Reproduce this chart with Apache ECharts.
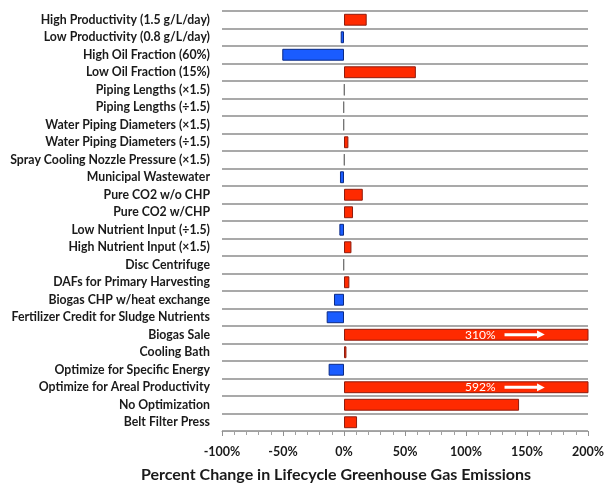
<!DOCTYPE html>
<html>
<head>
<meta charset="utf-8">
<script src="https://cdn.jsdelivr.net/npm/echarts@6/dist/echarts.min.js"></script>
<style>
  html, body { margin: 0; padding: 0; background: #fff; }
  #chart { width: 613px; height: 486px; }
</style>
</head>
<body>
<div id="chart"></div>
<script>
// Sensitivity scenarios, listed top to bottom
const scenarios = [
  'High Productivity (1.5 g/L/day)',
  'Low Productivity (0.8 g/L/day)',
  'High Oil Fraction (60%)',
  'Low Oil Fraction (15%)',
  'Piping Lengths (×1.5)',
  'Piping Lengths (÷1.5)',
  'Water Piping Diameters (×1.5)',
  'Water Piping Diameters (÷1.5)',
  'Spray Cooling Nozzle Pressure (×1.5)',
  'Municipal Wastewater',
  'Pure CO2 w/o CHP',
  'Pure CO2 w/CHP',
  'Low Nutrient Input (÷1.5)',
  'High Nutrient Input (×1.5)',
  'Disc Centrifuge',
  'DAFs for Primary Harvesting',
  'Biogas CHP w/heat exchange',
  'Fertilizer Credit for Sludge Nutrients',
  'Biogas Sale',
  'Cooling Bath',
  'Optimize for Specific Energy',
  'Optimize for Areal Productivity',
  'No Optimization',
  'Belt Filter Press'
];

// Percent change in lifecycle GHG emissions for each scenario
const percentChange = [
  18.6, -2.7, -50.6, 58.9, 0.5, -0.5, -0.5, 3.6, 0.5, -3.3,
  15.4, 7.4, -3.8, 6.1, -0.5, 4.4, -8.2, -14.2, 310, 2.0,
  -12.6, 592, 143.5, 10.7
];

// X axis range and tick spacing
const axisMin = -100;
const axisMax = 200;
const axisStep = 50;

const increaseColor = '#ff2a00';
const increaseBorder = '#8e1c0e';
const decreaseColor = '#1a5cff';
const decreaseBorder = '#0b2a85';
const neutralBorder = '#707070';

const labelFont = 'Lato, "Open Sans", sans-serif';

const chart = echarts.init(document.getElementById('chart'), null, { renderer: 'canvas' });

// Values beyond the axis maximum carry a value label with an arrow
const barData = percentChange.map(function (v) {
  const tiny = Math.abs(v) < 1;
  const item = {
    value: v,
    itemStyle: {
      color: v >= 0 ? increaseColor : decreaseColor,
      borderColor: tiny ? neutralBorder : (v >= 0 ? increaseBorder : decreaseBorder)
    }
  };
  if (v > axisMax) {
    item.label = {
      show: true,
      position: ['49.5%', '50%'],
      verticalAlign: 'middle',
      align: 'left',
      formatter: function (p) { return '{v|' + p.value + '%}{gap|}{shaft|}{head|▶}'; },
      rich: {
        v: { color: '#fff', fontSize: 12, fontFamily: labelFont },
        gap: { width: 9 },
        shaft: { width: 34, height: 3, backgroundColor: '#fff' },
        head: { color: '#fff', fontSize: 10, padding: [0, 0, 1, -2] }
      }
    };
  }
  return item;
});

chart.setOption({
  animation: false,
  backgroundColor: '#fff',
  grid: { left: 222, right: 25, top: 11, bottom: 55, containLabel: false },
  title: {
    text: 'Percent Change in Lifecycle Greenhouse Gas Emissions',
    left: 331,
    textAlign: 'center',
    top: 462,
    textStyle: { fontSize: 16, fontWeight: 'bold', color: '#1a1a1a', fontFamily: labelFont }
  },
  xAxis: {
    type: 'value',
    min: axisMin,
    max: axisMax,
    interval: axisStep,
    axisLine: { show: true, lineStyle: { color: '#a0a0a0', width: 1 } },
    axisTick: { show: true, inside: false, length: 5, lineStyle: { color: '#909090' } },
    minorTick: { show: true, splitNumber: 5, length: 4, lineStyle: { color: '#a0a0a0' } },
    splitLine: { show: false },
    axisLabel: {
      formatter: '{value}%',
      margin: 14,
      fontSize: 12.5,
      fontWeight: 'bold',
      color: '#1a1a1a',
      fontFamily: labelFont
    }
  },
  yAxis: {
    type: 'category',
    inverse: true,
    data: scenarios,
    axisLine: { show: false },
    axisTick: { show: false },
    splitLine: {
      show: true,
      // the bottom boundary is carried by the x axis line
      interval: function (index) { return index < scenarios.length; },
      lineStyle: { color: '#8c8c8c', width: 1.5 }
    },
    axisLabel: {
      margin: 12,
      fontSize: 12.3,
      fontWeight: 'bold',
      color: '#1a1a1a',
      fontFamily: labelFont
    }
  },
  series: [{
    type: 'bar',
    data: barData,
    barWidth: '68%',
    clip: true,
    itemStyle: { borderWidth: 1 }
  }]
});
</script>
</body>
</html>
